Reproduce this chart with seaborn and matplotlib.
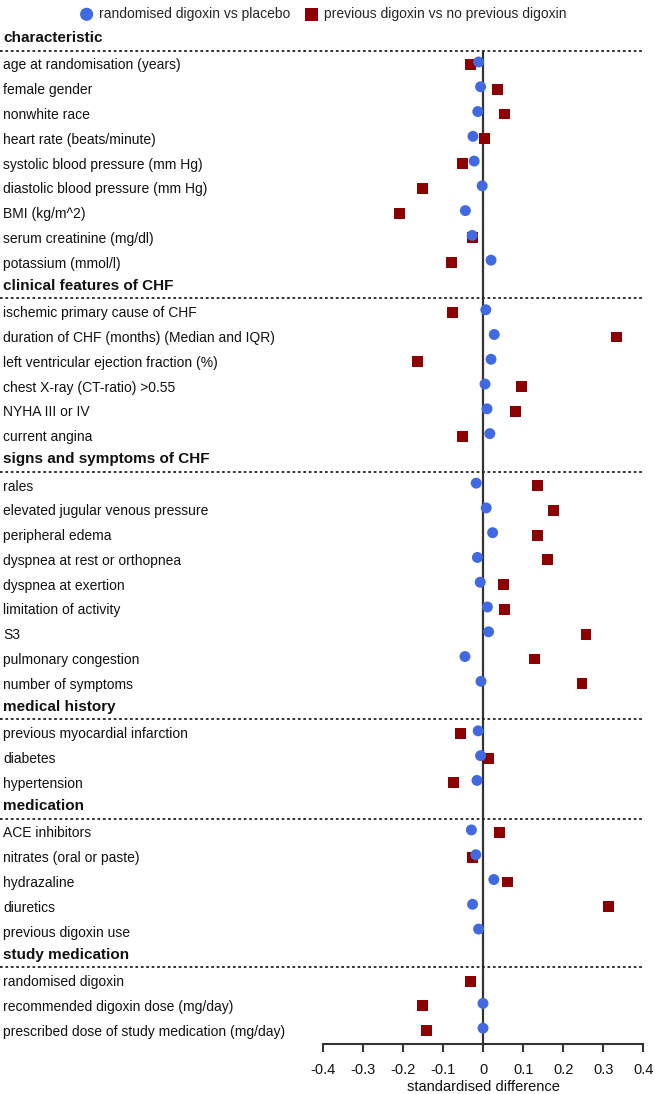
import numpy as np
import pandas as pd
import matplotlib
matplotlib.use("Agg")
import matplotlib.pyplot as plt
import matplotlib.transforms as mtrans
import seaborn as sns

sns.set_theme(style="white")
plt.rcParams["font.family"] = ["Liberation Sans", "DejaVu Sans"]

nan = np.nan

# ── data ──────────────────────────────────────────────────────────
sections = [
    "characteristic", "clinical features of CHF", "signs and symptoms of CHF",
    "medical history", "medication", "study medication",
]

labels = [
    "characteristic",
    "age at randomisation (years)", "female gender", "nonwhite race",
    "heart rate (beats/minute)", "systolic blood pressure (mm Hg)",
    "diastolic blood pressure (mm Hg)", "BMI (kg/m^2)",
    "serum creatinine (mg/dl)", "potassium (mmol/l)",
    "clinical features of CHF",
    "ischemic primary cause of CHF", "duration of CHF (months) (Median and IQR)",
    "left ventricular ejection fraction (%)", "chest X-ray (CT-ratio) >0.55",
    "NYHA III or IV", "current angina",
    "signs and symptoms of CHF",
    "rales", "elevated jugular venous pressure", "peripheral edema",
    "dyspnea at rest or orthopnea", "dyspnea at exertion", "limitation of activity",
    "S3", "pulmonary congestion", "number of symptoms",
    "medical history",
    "previous myocardial infarction", "diabetes", "hypertension",
    "medication",
    "ACE inhibitors", "nitrates (oral or paste)", "hydrazaline", "diuretics",
    "previous digoxin use",
    "study medication",
    "randomised digoxin", "recommended digoxin dose (mg/day)",
    "prescribed dose of study medication (mg/day)",
]

# randomised digoxin vs placebo
rand_vs_placebo = [
    nan,
    -0.011, -0.006, -0.013, -0.025, -0.022, -0.002, -0.044, -0.027, 0.020,
    nan,
    0.007, 0.028, 0.020, 0.005, 0.010, 0.017,
    nan,
    -0.017, 0.008, 0.024, -0.014, -0.007, 0.011, 0.014, -0.045, -0.005,
    nan,
    -0.012, -0.006, -0.015,
    nan,
    -0.029, -0.018, 0.027, -0.026, -0.011,
    nan,
    nan, 0.000, 0.000,
]

# previous digoxin vs no previous digoxin
prev_vs_noprev = [
    nan,
    -0.032, 0.037, 0.053, 0.003, -0.051, -0.150, -0.209, -0.027, -0.078,
    nan,
    -0.077, 0.332, -0.163, 0.095, 0.080, -0.052,
    nan,
    0.135, 0.177, 0.137, 0.162, 0.052, 0.054, 0.257, 0.129, 0.247,
    nan,
    -0.055, 0.014, -0.074,
    nan,
    0.042, -0.026, 0.060, 0.312, nan,
    nan,
    -0.031, -0.152, -0.142,
]

x_ticks = [-0.4, -0.3, -0.2, -0.1, 0.0, 0.1, 0.2, 0.3, 0.4]
x_tick_labels = ["-0.4", "-0.3", "-0.2", "-0.1", "0", "0.1", "0.2", "0.3", "0.4"]

BLUE = "#4169e1"
RED = "#8b0000"
INK = "#333333"

df = pd.DataFrame({
    "label": labels,
    "row": np.arange(len(labels)),
    "rand": rand_vs_placebo,
    "prev": prev_vs_noprev,
})
df["y_rand"] = df["row"] - 0.04
df["y_prev"] = df["row"] + 0.06

# ── figure ────────────────────────────────────────────────────────
W, H = 655, 1094
fig = plt.figure(figsize=(W / 100, H / 100), dpi=100)
ax = fig.add_axes([322.7 / W, 50 / H, (643.3 - 322.7) / W, (1044 - 50.6) / H])

sns.scatterplot(data=df, x="prev", y="y_prev", marker="s", s=62, color=RED,
                edgecolor="none", ax=ax, zorder=3,
                label="previous digoxin vs no previous digoxin")
sns.scatterplot(data=df, x="rand", y="y_rand", marker="o", s=62, color=BLUE,
                edgecolor="none", ax=ax, zorder=4,
                label="randomised digoxin vs placebo")

n = len(labels)
ax.set_xlim(-0.4, 0.4)
ax.set_ylim(n - 0.4, 0.5)
ax.axvline(0, color=INK, lw=1.6, zorder=2)

for side in ["top", "left", "right"]:
    ax.spines[side].set_visible(False)
ax.spines["bottom"].set_color(INK)
ax.spines["bottom"].set_linewidth(1.5)

ax.set_yticks([])
ax.set_ylabel("")
ax.set_xticks(x_ticks)
ax.set_xticklabels(x_tick_labels, fontsize=10.5, color="#111111")
ax.tick_params(axis="x", bottom=True, direction="out", length=6, width=1.5,
               color=INK, pad=8)
ax.set_xlabel("standardised difference", fontsize=10.5, labelpad=2, color="#111111")

# row labels, section headers and dotted separators
trans = mtrans.blended_transform_factory(fig.transFigure, ax.transData)
for row, lab in enumerate(labels):
    if lab in sections:
        ax.text(3 / W, row, lab, transform=trans, fontsize=11, fontweight="bold",
                va="center", ha="left", color="#111111", clip_on=False)
        ax.plot([0, 643.3 / W], [row + 0.5, row + 0.5], transform=trans,
                ls=(0, (1.5, 1.5)), lw=1.3, color="#222222", clip_on=False)
    else:
        ax.text(3 / W, row + 0.1, lab, transform=trans, fontsize=10,
                va="center", ha="left", color="#111111", clip_on=False)

handles, leg_labels = ax.get_legend_handles_labels()
ax.get_legend().remove()
fig.legend(handles[::-1], leg_labels[::-1], loc="upper center",
           bbox_to_anchor=(0.492, 1.0), ncol=2, frameon=False, fontsize=10,
           handletextpad=0.3, columnspacing=0.9, borderaxespad=0.1,
           handlelength=1.2, markerscale=1.2)

fig.savefig("out.png", dpi=100)
